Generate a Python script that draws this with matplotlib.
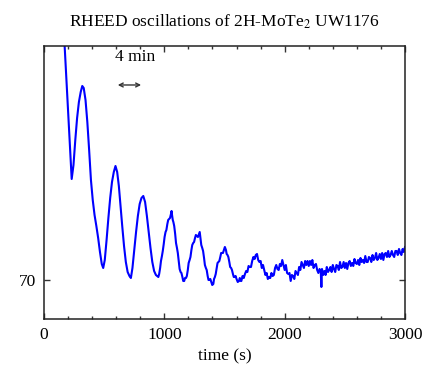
import numpy as np
import matplotlib.pyplot as plt

# RHEED intensity (arbitrary units), in three stretches
# first strong oscillations
time_a = [160, 180, 200, 215, 230, 245, 260, 275, 290, 305, 318, 330, 345, 360,
          375, 390, 405, 420, 435, 450, 465, 480, 492, 505, 520, 535, 550, 565,
          580, 594, 608, 622, 636, 650, 665, 680, 695, 710, 722, 735, 750, 765,
          780, 795, 810, 825, 840, 855, 870, 885, 900, 915, 930]
int_a = [96.0, 91.4, 86.8, 83.2, 80.1, 81.5, 84.0, 86.2, 87.8, 88.8, 89.4, 89.2,
         88.0, 85.8, 83.0, 80.0, 78.0, 76.5, 75.4, 74.2, 72.8, 71.6, 71.2, 72.0,
         74.0, 76.2, 78.2, 79.8, 80.8, 81.4, 80.8, 79.4, 77.4, 75.4, 73.4, 71.8,
         70.8, 70.4, 70.2, 71.2, 73.0, 74.8, 76.4, 77.6, 78.2, 78.4, 77.8, 76.4,
         74.8, 73.2, 71.8, 70.9, 70.5]

# damped oscillations
time_b = [950, 957, 965, 972, 980, 987, 995, 1002, 1010, 1017, 1025, 1032, 1040,
          1047, 1055, 1060, 1064, 1070, 1075, 1082, 1090, 1097, 1105, 1112, 1120,
          1127, 1135, 1142, 1150, 1157, 1165, 1172, 1180, 1187, 1195, 1202, 1210,
          1217, 1225, 1232, 1240, 1247, 1255, 1262, 1270, 1279, 1288, 1294, 1300,
          1307, 1315, 1322, 1330, 1337, 1345, 1352, 1360, 1367, 1375, 1382, 1390,
          1398, 1407, 1413, 1420, 1427, 1435, 1442, 1450, 1457, 1465, 1472, 1480,
          1487, 1495, 1503, 1512, 1518, 1525, 1532, 1540, 1547, 1555, 1562, 1570,
          1577, 1585, 1592, 1600, 1610, 1620, 1627, 1635]
int_b = [70.3, 70.6, 71.2, 71.9, 72.4, 72.9, 73.6, 74.3, 74.8, 75.0, 75.6, 76.0, 76.1,
         76.2, 76.6, 76.9, 76.5, 76.0, 75.8, 75.4, 74.6, 73.7, 73.2, 72.7, 71.8,
         71.1, 70.8, 70.7, 70.3, 69.9, 69.9, 70.2, 70.2, 70.4, 71.0, 71.7, 72.0,
         72.3, 73.0, 73.5, 73.7, 73.8, 74.2, 74.5, 74.4, 74.3, 74.6, 74.8, 74.2,
         73.5, 73.2, 72.9, 72.2, 71.5, 71.2, 71.0, 70.4, 70.0, 70.0, 70.1, 69.8,
         69.5, 69.6, 70.1, 70.3, 70.6, 71.2, 71.7, 71.8, 71.9, 72.3, 72.7, 72.7,
         72.7, 73.0, 73.3, 73.0, 72.6, 72.5, 72.3, 71.8, 71.3, 71.2, 71.0, 70.6,
         70.3, 70.3, 70.4, 70.1, 69.8, 69.9, 70.2, 69.9]

# noisy recovery
time_c = [1640, 1650, 1660, 1670, 1680, 1690, 1700, 1710, 1720, 1730, 1740, 1750,
          1760, 1770, 1780, 1790, 1800, 1810, 1820, 1830, 1840, 1850, 1860, 1870,
          1880, 1890, 1900, 1910, 1920, 1930, 1940, 1950, 1960, 1970, 1980, 1990,
          2000, 2010, 2020, 2030, 2040, 2050, 2060, 2070, 2080, 2090, 2100, 2110,
          2120, 2130, 2140, 2150, 2160, 2170, 2180, 2190, 2200, 2210, 2220, 2230,
          2240, 2250, 2260, 2270, 2280, 2290, 2300, 2305, 2310, 2320, 2330, 2340,
          2350, 2360, 2370, 2380, 2390, 2400, 2410, 2420, 2430, 2440, 2450, 2460,
          2470, 2480, 2490, 2500, 2510, 2520, 2530, 2540, 2550, 2560, 2570, 2580,
          2590, 2600, 2610, 2620, 2630, 2640, 2650, 2660, 2670, 2680, 2690, 2700,
          2710, 2720, 2730, 2740, 2750, 2760, 2770, 2780, 2790, 2800, 2810, 2820,
          2830, 2840, 2850, 2860, 2870, 2880, 2890, 2900, 2910, 2920, 2930, 2940,
          2950, 2960, 2970, 2980, 2990, 3000]
int_c = [69.9, 70.4, 70.2, 70.6, 70.9, 70.8, 71.4, 71.3, 71.3, 71.9, 72.3, 72.1,
         72.5, 72.6, 72.0, 71.8, 71.9, 71.2, 71.5, 71.0, 70.5, 70.7, 70.1, 70.3,
         70.2, 70.7, 70.4, 70.5, 71.2, 71.5, 71.1, 71.0, 71.6, 71.4, 72.0, 71.5,
         71.0, 71.5, 70.7, 70.6, 70.7, 69.9, 70.5, 70.4, 70.1, 70.9, 70.7, 70.5,
         71.3, 71.0, 71.8, 71.5, 71.2, 71.9, 71.5, 71.9, 71.4, 71.9, 71.5, 72.0,
         71.2, 71.5, 71.6, 71.0, 70.7, 71.1, 70.8, 69.3, 71.1, 70.5, 70.9, 70.5,
         71.3, 70.8, 71.0, 71.3, 70.8, 71.5, 71.1, 70.8, 71.5, 71.4, 71.0, 71.8,
         71.2, 71.3, 71.8, 71.2, 71.7, 71.1, 71.7, 71.9, 71.4, 71.7, 71.4, 72.1,
         71.7, 71.6, 72.0, 71.5, 72.2, 71.8, 72.0, 71.7, 72.4, 71.8, 71.8, 72.3,
         72.2, 71.8, 72.5, 72.0, 72.2, 72.7, 72.0, 72.2, 72.6, 72.1, 72.7, 72.0,
         72.6, 72.7, 72.3, 72.9, 72.3, 72.5, 72.9, 72.5, 72.3, 72.9, 72.9, 72.5,
         73.1, 72.7, 72.5, 73.1, 72.8, 73.3]

time_s = time_a + time_b + time_c
intensity = int_a + int_b + int_c

plt.rcParams['font.family'] = ['Liberation Serif', 'DejaVu Serif']
plt.rcParams['mathtext.fontset'] = 'stix'

fig = plt.figure(figsize=(4.37, 3.67), dpi=100)
ax = fig.add_axes([0.1007, 0.1308, 0.8261, 0.7439])

ax.plot(time_s, intensity, color='#0000ff', lw=1.5)

ax.set_xlim(0, 3000)
ax.set_ylim(66.1, 93.4)
ax.set_xticks([0, 1000, 2000, 3000])
ax.set_xticks(np.arange(0, 3001, 200), minor=True)
ax.set_yticks([70])
ax.tick_params(which='both', direction='in', top=True, right=True,
               labelsize=12.5, width=1.0, color='#333333')
ax.tick_params(which='major', length=4.5, pad=6)
ax.tick_params(which='minor', length=2.2)
for s in ax.spines.values():
    s.set_linewidth(1.1)
    s.set_color('#222222')

ax.set_xlabel('time (s)', fontsize=12.5, labelpad=4)
ax.set_title('RHEED oscillations of 2H-MoTe$_2$ UW1176', fontsize=12.5, pad=14)

# 4 minute scale marker
ax.text(590, 92.3, '4 min', fontsize=12.5, ha='left', va='center')
ax.annotate('', xy=(590, 89.5), xytext=(830, 89.5),
            arrowprops=dict(arrowstyle='<->', color='#333333', lw=1.0,
                            mutation_scale=7))

fig.savefig('out.png', dpi=100)
